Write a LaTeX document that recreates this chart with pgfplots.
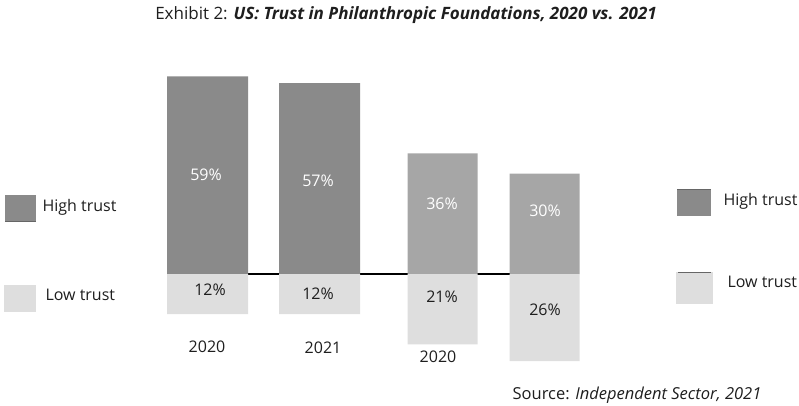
\documentclass[border=0pt]{standalone}
\usepackage{pgfplots}
\pgfplotsset{compat=1.18}
\usepackage{fontspec}
\setmainfont{Open Sans}
\definecolor{hiA}{HTML}{8A8A8A}
\definecolor{hiB}{HTML}{A6A6A6}
\definecolor{lo}{HTML}{DEDEDE}
\definecolor{txt}{HTML}{1E1E1E}
\newcommand{\fs}[1]{\fontsize{#1}{#1}\selectfont}
\begin{document}
\begin{tikzpicture}
\begin{axis}[scale only axis, width=799pt, height=406pt,
  xmin=0, xmax=799, ymin=-39.403, ymax=81.791,
  hide axis, clip=false]
% baseline
\draw[black, line width=1.6pt] (axis cs:245,0) -- (axis cs:512,0);
% high trust bars
\addplot[ybar, bar shift=0pt, bar width=81, fill=hiA, draw=none] coordinates {(207.5,59) (319.5,57)};
\addplot[ybar, bar shift=0pt, bar width=70, fill=hiB, draw=none] coordinates {(442.5,36) (544.5,30)};
% low trust bars
\addplot[ybar, bar shift=0pt, bar width=81, fill=lo, draw=none] coordinates {(207.5,-12) (319.5,-12)};
\addplot[ybar, bar shift=0pt, bar width=70, fill=lo, draw=none] coordinates {(442.5,-21) (544.5,-26)};
% value labels
\node[font=\fs{16}, text=white] at (axis cs:206,29.6) {59\%};
\node[font=\fs{16}, text=white] at (axis cs:318,27.8) {57\%};
\node[font=\fs{16}, text=white] at (axis cs:442,20.9) {36\%};
\node[font=\fs{16}, text=white] at (axis cs:545,18.8) {30\%};
\node[font=\fs{16}, text=txt] at (axis cs:210,-4.8) {12\%};
\node[font=\fs{16}, text=txt] at (axis cs:318,-6.0) {12\%};
\node[font=\fs{16}, text=txt] at (axis cs:442,-6.9) {21\%};
\node[font=\fs{16}, text=txt] at (axis cs:545,-10.7) {26\%};
% year labels
\node[font=\fs{16}, text=txt] at (axis cs:207,-21.8) {2020};
\node[font=\fs{16}, text=txt] at (axis cs:323,-22.1) {2021};
\node[font=\fs{16}, text=txt] at (axis cs:438,-24.8) {2020};
% title
\node[font=\fs{17}, text=txt] at (axis cs:406,77.2) {Exhibit 2: \textbf{\textit{US: Trust in Philanthropic Foundations, 2020 vs. 2021}}};
% source
\node[font=\fs{16.5}, text=txt] at (axis cs:637,-36.3) {Source: \textit{Independent Sector, 2021}};
% left legend
\fill[hiA] (axis cs:5,23.6) rectangle (axis cs:36,15.5);
\draw[black!60, line width=0.8pt] (axis cs:5,15.6) -- (axis cs:36,15.6);
\node[font=\fs{16}, text=txt, anchor=west] at (axis cs:39,20.0) {High trust};
\fill[lo] (axis cs:4,-3.3) rectangle (axis cs:36,-11.3);
\node[font=\fs{16}, text=txt, anchor=west] at (axis cs:42,-6.3) {Low trust};
% right legend
\fill[hiA] (axis cs:677,25.4) rectangle (axis cs:711,17.3);
\draw[black!60, line width=0.8pt] (axis cs:677,25.3) -- (axis cs:711,25.3);
\node[font=\fs{16}, text=txt, anchor=west] at (axis cs:720,21.8) {High trust};
\fill[lo] (axis cs:676,0.6) rectangle (axis cs:713,-9.0);
\draw[black!60, line width=0.8pt] (axis cs:678,0.5) -- (axis cs:711,0.5);
\node[font=\fs{16}, text=txt, anchor=west] at (axis cs:724,-2.4) {Low trust};
\end{axis}
\pgfresetboundingbox
\path (0,0) rectangle (799pt,406pt);
\end{tikzpicture}
\end{document}
